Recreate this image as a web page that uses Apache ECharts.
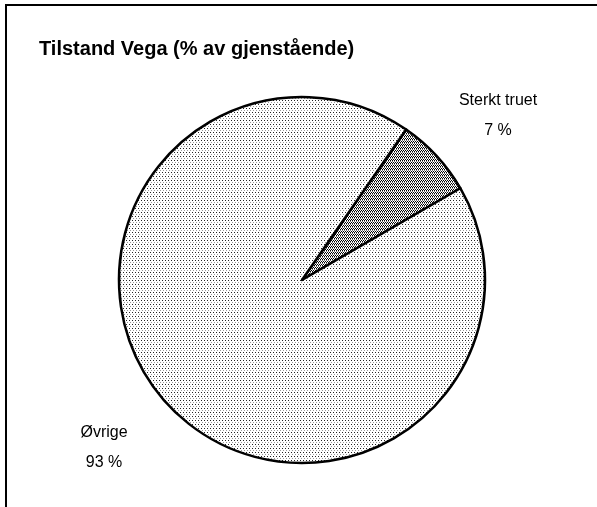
<!DOCTYPE html>
<html>
	<head>
		<meta http-equiv="Content-Type" content="text/html;charset=utf-8" />
		<title>Tilstand Vega</title>
		<script src="https://cdn.jsdelivr.net/npm/echarts/dist/echarts.min.js"></script>
		<style>
			html, body { margin: 0; padding: 0; background: #fff; }
			#container { width: 597px; height: 507px; }
		</style>
	</head>
	<body>
		<div id="container"></div>
		<script type="text/javascript">
			// data
			var categories = ['Sterkt truet', 'Øvrige'];
			var values = [7, 93];
			var labelText = ['Sterkt truet\n7 %', 'Øvrige\n93 %'];
			// label centres (px)
			var labelPos = [[498, 116], [104, 448]];

			// small pixel patterns like the old excel fills
			function makePattern(w, h, pixels) {
				var c = document.createElement('canvas');
				c.width = w;
				c.height = h;
				var ctx = c.getContext('2d');
				ctx.fillStyle = '#fff';
				ctx.fillRect(0, 0, w, h);
				pixels.forEach(function (p) {
					ctx.fillStyle = p[2];
					ctx.fillRect(p[0], p[1], 1, 1);
				});
				return c;
			}

			var dots = makePattern(3, 4, [
				[0, 0, '#222'],
				[1, 2, '#999']
			]);
			var zigzag = makePattern(2, 3, [
				[1, 0, '#000'], [0, 1, '#000'], [0, 2, '#777']
			]);
			var fills = [zigzag, dots];

			var seriesData = [];
			for (var i = 0; i < categories.length; i++) {
				seriesData.push({
					name: categories[i],
					value: values[i],
					itemStyle: { color: { image: fills[i], repeat: 'repeat' } }
				});
			}

			var myChart = echarts.init(document.getElementById('container'));
			var option = {
				backgroundColor: '#fff',
				animation: false,
				title: {
					text: 'Tilstand Vega (% av gjenstående)',
					left: 34,
					top: 34,
					textStyle: {
						fontFamily: 'Liberation Sans, Arial, sans-serif',
						fontWeight: 'bold',
						fontSize: 20,
						color: '#000'
					}
				},
				graphic: [{
					type: 'rect',
					shape: { x: 6, y: 5, width: 600, height: 520 },
					style: { fill: 'none', stroke: '#000', lineWidth: 2 },
					silent: true
				}],
				series: [{
					type: 'pie',
					center: [302, 280],
					radius: 183,
					startAngle: 55.3,
					clockwise: true,
					data: seriesData,
					itemStyle: { borderColor: '#000', borderWidth: 2.5 },
					label: {
						show: true,
						position: 'outside',
						formatter: function (p) { return labelText[p.dataIndex]; },
						fontFamily: 'Liberation Sans, Arial, sans-serif',
						fontSize: 16,
						lineHeight: 30,
						color: '#000'
					},
					labelLine: { show: false },
					labelLayout: function (p) {
						var pos = labelPos[p.dataIndex];
						return { x: pos[0], y: pos[1], align: 'center', verticalAlign: 'middle' };
					},
					emphasis: { disabled: true }
				}]
			};
			myChart.setOption(option);
		</script>
	</body>
</html>
